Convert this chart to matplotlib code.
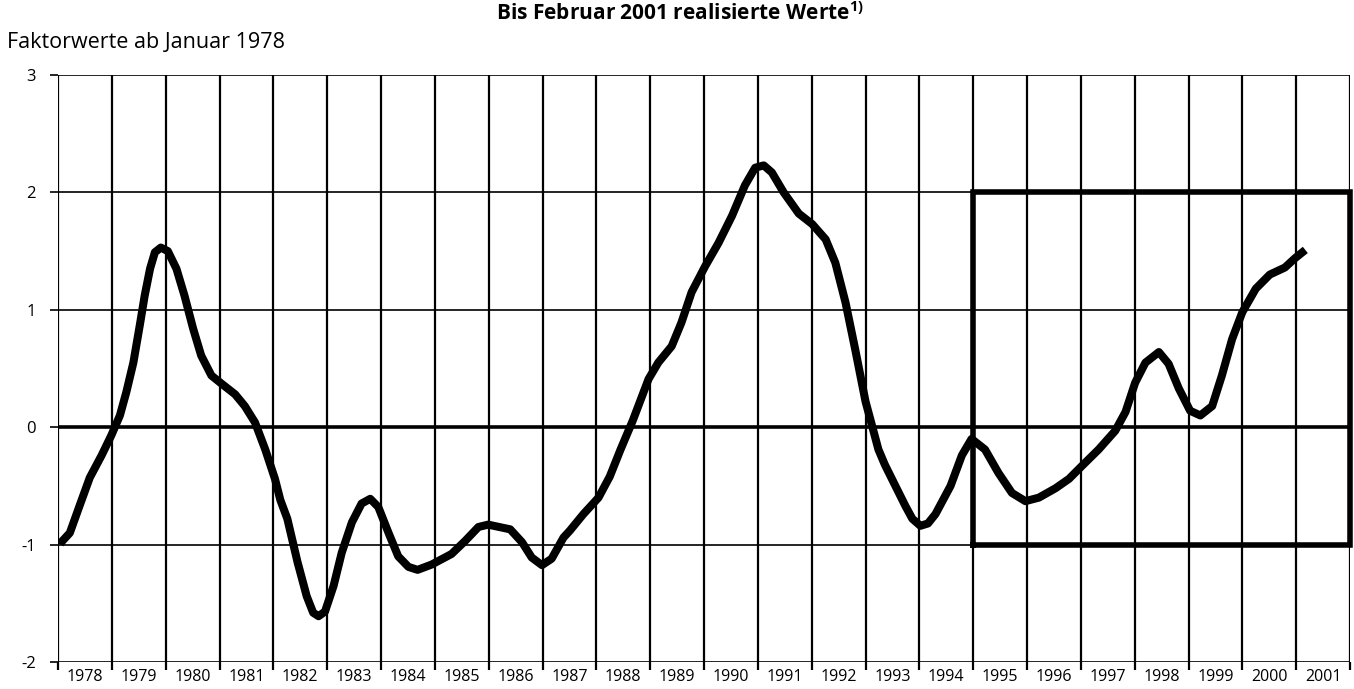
import matplotlib
matplotlib.use("Agg")
import matplotlib.pyplot as plt
import numpy as np

plt.rcParams['font.family'] = ['Open Sans', 'DejaVu Sans']
plt.rcParams['mathtext.fontset'] = 'custom'
plt.rcParams['mathtext.bf'] = 'Open Sans:bold'
plt.rcParams['mathtext.rm'] = 'Open Sans'

# Data (decimal year, factor value)
years = [1978.04, 1978.06, 1978.22, 1978.40, 1978.59, 1978.81, 1978.99, 1979.15, 1979.27, 1979.40,
         1979.52, 1979.61, 1979.71, 1979.80, 1979.91, 1980.04, 1980.20, 1980.35, 1980.51, 1980.66,
         1980.85, 1981.04, 1981.29, 1981.47, 1981.66, 1981.85, 1982.03, 1982.13, 1982.26, 1982.45,
         1982.62, 1982.74, 1982.84, 1982.96, 1983.12, 1983.27, 1983.46, 1983.64, 1983.80, 1983.95,
         1984.14, 1984.32, 1984.51, 1984.68, 1984.94, 1985.31, 1985.56, 1985.81, 1985.99, 1986.40,
         1986.62, 1986.80, 1986.99, 1987.17, 1987.39, 1987.51, 1987.76, 1988.04, 1988.25, 1988.45,
         1988.68, 1988.97, 1989.15, 1989.40, 1989.58, 1989.77, 1990.02, 1990.27, 1990.52, 1990.76,
         1990.95, 1991.11, 1991.26, 1991.48, 1991.76, 1992.01, 1992.26, 1992.44, 1992.63, 1992.81,
         1993.00, 1993.24, 1993.36, 1993.49, 1993.74, 1993.87, 1994.02, 1994.16, 1994.30, 1994.58,
         1994.79, 1994.97, 1995.22, 1995.47, 1995.72, 1995.97, 1996.22, 1996.53, 1996.78, 1997.02,
         1997.33, 1997.64, 1997.83, 1998.01, 1998.20, 1998.45, 1998.63, 1998.82, 1999.03, 1999.22,
         1999.44, 1999.62, 1999.81, 2000.00, 2000.25, 2000.51, 2000.79, 2000.98, 2001.17]
values = [-1.00, -0.98, -0.90, -0.67, -0.43, -0.24, -0.07, 0.10, 0.30, 0.55,
          0.87, 1.12, 1.35, 1.49, 1.53, 1.50, 1.35, 1.12, 0.84, 0.61,
          0.44, 0.37, 0.28, 0.18, 0.04, -0.19, -0.44, -0.62, -0.78, -1.15,
          -1.44, -1.58, -1.61, -1.57, -1.35, -1.07, -0.81, -0.65, -0.61, -0.68,
          -0.90, -1.10, -1.19, -1.215, -1.17, -1.08, -0.97, -0.85, -0.83, -0.87,
          -0.98, -1.11, -1.175, -1.12, -0.94, -0.88, -0.74, -0.60, -0.42, -0.19,
          0.06, 0.41, 0.55, 0.69, 0.89, 1.15, 1.37, 1.57, 1.80, 2.06,
          2.21, 2.23, 2.17, 2.00, 1.82, 1.73, 1.60, 1.40, 1.06, 0.66,
          0.22, -0.19, -0.32, -0.44, -0.67, -0.78, -0.84, -0.82, -0.74, -0.50,
          -0.24, -0.10, -0.19, -0.39, -0.56, -0.63, -0.60, -0.52, -0.44, -0.33,
          -0.19, -0.03, 0.13, 0.38, 0.55, 0.64, 0.54, 0.33, 0.14, 0.10,
          0.18, 0.44, 0.75, 0.98, 1.18, 1.30, 1.36, 1.44, 1.51]

year_labels = [str(y) for y in range(1978, 2002)]
y_ticks = [-2, -1, 0, 1, 2, 3]
box_x = [1995, 2002]
box_y = [-1, 2]

fig = plt.figure(figsize=(13.54, 6.89), dpi=100)
ax = fig.add_axes([58/1354, 1-662/689, (1350-58)/1354, (662-75)/689])
ax.set_xlim(1978, 2002)
ax.set_ylim(-2, 3)
for s in ax.spines.values():
    s.set_visible(False)

# grid
for x in range(1978, 2003):
    ax.axvline(x, color='black', lw=1.6, zorder=1)
for yv in y_ticks:
    ax.axhline(yv, color='black', lw=1.2 if yv != 0 else 2.6, zorder=1)

# box
ax.plot([box_x[0], box_x[1], box_x[1], box_x[0], box_x[0]],
        [box_y[0], box_y[0], box_y[1], box_y[1], box_y[0]],
        color='black', lw=4.0, zorder=2, solid_joinstyle='miter', clip_on=False)

ax.plot(years, values, color='black', lw=5.8, solid_capstyle='butt',
        solid_joinstyle='round', zorder=3)

ax.set_xticks(range(1978, 2003))
ax.set_xticklabels([])
ax.set_xticks(np.arange(1978.5, 2002, 1), minor=True)
ax.set_xticklabels(year_labels, minor=True, fontsize=11.5)
ax.tick_params(axis='x', which='major', direction='out', length=6, width=1.6)
ax.tick_params(axis='x', which='minor', length=0, pad=5)
ax.set_yticks(y_ticks)
ax.set_yticklabels([str(v) for v in y_ticks], fontsize=12)
ax.tick_params(axis='y', direction='out', length=6, width=1.2, pad=10)

fig.text(7/1354, 1-42/689, "Faktorwerte ab Januar 1978", fontsize=15.5, va='center', ha='left')
fig.text(680/1354, 1-14/689, r"Bis Februar 2001 realisierte Werte$^{\mathbf{1)}}$",
         fontsize=15, fontweight='bold', ha='center', va='center')

fig.savefig("out.png", dpi=100)
